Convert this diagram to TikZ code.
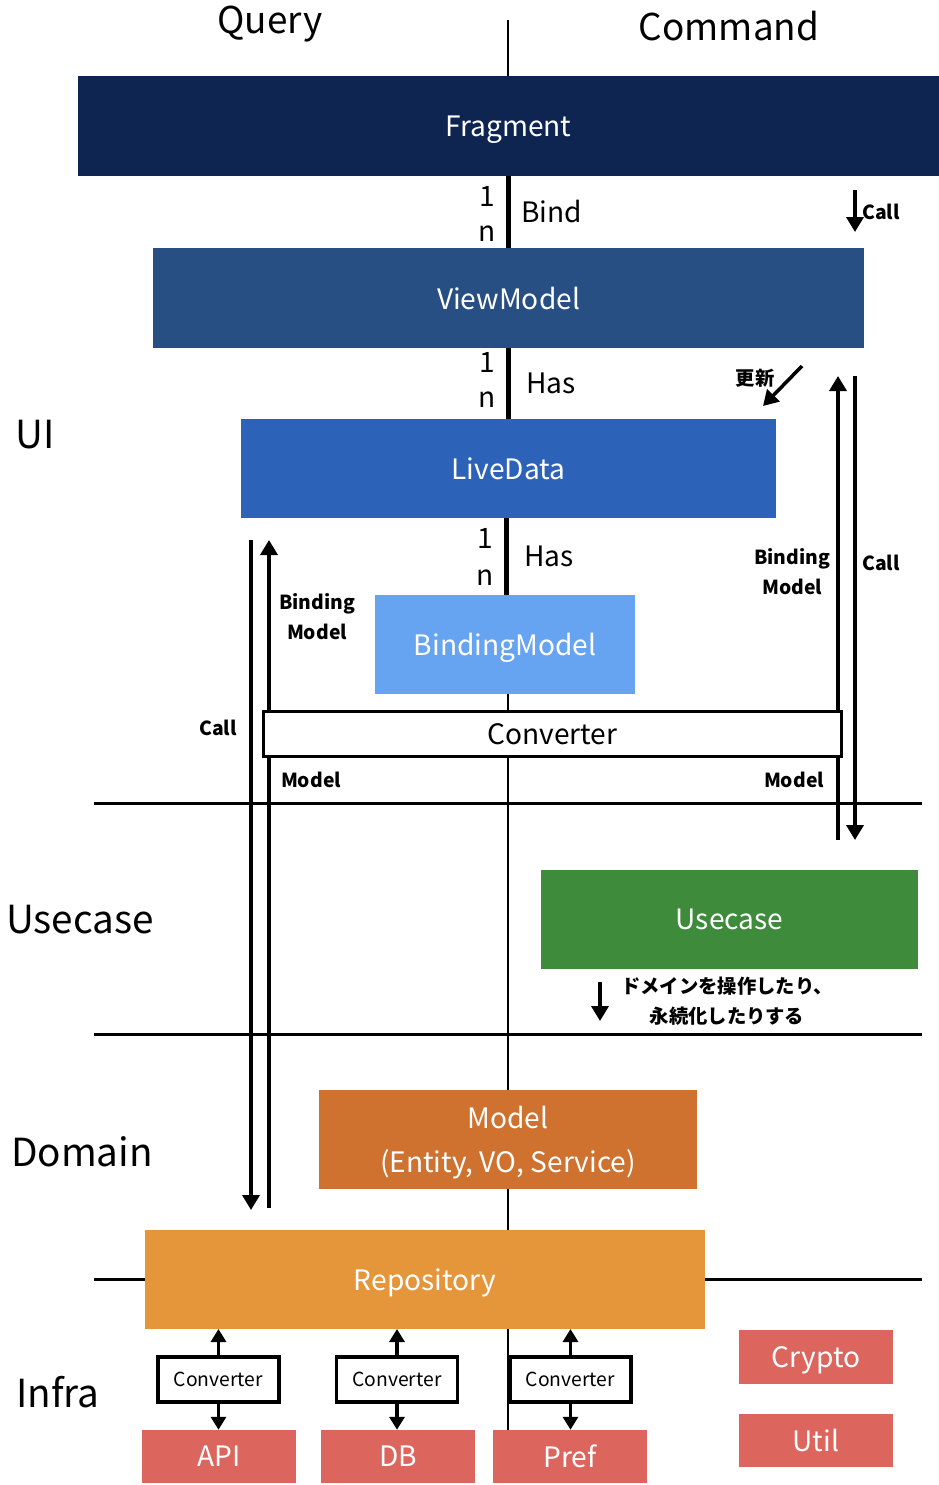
\documentclass[tikz,border=0pt]{standalone}
\usepackage{fontspec}
\setmainfont{Noto Sans CJK JP}
\usetikzlibrary{positioning, arrows.meta, backgrounds}
\definecolor{fragNavy}{HTML}{0E2451}
\definecolor{vmBlue}{HTML}{274F83}
\definecolor{ldBlue}{HTML}{2C63B9}
\definecolor{bmBlue}{HTML}{66A4F1}
\definecolor{ucGreen}{HTML}{3D8B3B}
\definecolor{modelOrange}{HTML}{CF712F}
\definecolor{repoOrange}{HTML}{E5963B}
\definecolor{infraRed}{HTML}{DC665E}

\begin{document}
\begin{tikzpicture}[
  x=0.02cm, y=-0.02cm,
  layerBox/.style={fill=#1, text=white, inner sep=0pt, outer sep=0pt, minimum height=2cm, text depth=0pt, align=center, font=\fontsize{16}{25}\selectfont},
  infraBox/.style={fill=infraRed, text=white, inner sep=0pt, outer sep=0pt, minimum width=3.08cm, minimum height=1.07cm, text depth=0pt, font=\fontsize{16}{20}\selectfont},
  convBox/.style={draw, line width=2pt, fill=white, inner sep=0pt, outer sep=0pt, minimum width=2.42cm, minimum height=0.9cm, font=\fontsize{11}{13}\selectfont},
  linkLine/.style={line width=3.4pt},
  linkLabel/.style={inner sep=0pt, font=\fontsize{16}{20}\selectfont},
  flowArrow/.style={line width=2pt, -{Triangle[width=0.34cm, length=0.3cm]}},
  smallArrow/.style={line width=2pt, -{Triangle[width=0.3cm, length=0.26cm]}},
  tierLine/.style={line width=1.7pt},
  headLabel/.style={font=\fontsize{21}{25}\selectfont},
  tierLabel/.style={font=\fontsize{22}{26}\selectfont},
  noteLabel/.style={align=center, inner sep=0pt, font=\fontsize{11}{17}\selectfont\bfseries}
]
\useasboundingbox (0,0) rectangle (939,1485);

% Headers
\node[headLabel] (queryHead) at (270,24) {Query};
\node[headLabel] (commandHead) at (729,26) {Command};

% UI layer
\node[layerBox=fragNavy, minimum width=17.22cm] (fragment) at (508.5,126) {Fragment};
\node[layerBox=vmBlue, minimum width=14.24cm, below=1.44cm of fragment] (viewModel) {ViewModel};
\node[layerBox=ldBlue, minimum width=10.72cm, minimum height=1.98cm, below=1.42cm of viewModel] (liveData) {LiveData};
\node[layerBox=bmBlue, minimum width=5.22cm, minimum height=1.98cm, below=1.54cm of liveData, xshift=-0.07cm] (bindingModel) {BindingModel};
\node[draw, line width=2.2pt, fill=white, inner sep=0pt, outer sep=0pt, minimum width=11.56cm, minimum height=0.9cm, font=\fontsize{16}{20}\selectfont] (converter) at (552.5,734) {Converter};

% Usecase / Domain layer
\node[layerBox=ucGreen, minimum width=7.54cm, minimum height=1.98cm] (usecase) at (729.5,919.5) {Usecase};
\node[layerBox=modelOrange, minimum width=7.56cm, minimum height=1.98cm] (model) at (508,1139.5) {Model\\(Entity, VO, Service)};

% Infra layer
\node[layerBox=repoOrange, minimum width=11.2cm, minimum height=1.98cm] (repository) at (425,1279.5) {Repository};
\node[convBox] (convApi) at (218.5,1379.5) {Converter};
\node[convBox] (convDb) at (397,1379.5) {Converter};
\node[convBox] (convPref) at (570.5,1379.5) {Converter};
\node[infraBox] (api) at (219,1456.5) {API};
\node[infraBox] (db) at (398,1456.5) {DB};
\node[infraBox] (pref) at (570,1456.5) {Pref};
\node[infraBox] (crypto) at (816,1357) {Crypto};
\node[infraBox] (util) at (816,1440.5) {Util};

% Tier names
\node[tierLabel] (uiTag) at (35,435) {UI};
\node[tierLabel] (usecaseTag) at (80,920) {Usecase};
\node[tierLabel] (domainTag) at (82,1152) {Domain};
\node[tierLabel] (infraTag) at (58,1392) {Infra};

% Links between UI parts
\draw[linkLine] (fragment.south) -- (viewModel.north)
  node[linkLabel, pos=0.28, left=0.2cm] (bindOne) {1}
  node[linkLabel, pos=0.8, left=0.2cm] (bindMany) {n}
  node[linkLabel, midway, right=0.2cm] (bindText) {Bind};
\draw[linkLine] (viewModel.south) -- (liveData.north)
  node[linkLabel, pos=0.2, left=0.2cm] (vmOne) {1}
  node[linkLabel, pos=0.73, left=0.2cm] (vmMany) {n}
  node[linkLabel, midway, right=0.3cm] (vmText) {Has};
\draw[linkLine] (liveData.south -| bindingModel.north) ++(0.03cm,0) coordinate (ldFoot) -- (ldFoot |- bindingModel.north)
  node[linkLabel, pos=0.27, left=0.2cm] (ldOne) {1}
  node[linkLabel, pos=0.77, left=0.2cm] (ldMany) {n}
  node[linkLabel, midway, right=0.3cm] (ldText) {Has};

% Flow labels
\node[noteLabel] (callTopText) at (881,212) {Call};
\node[noteLabel] (updateText) at (755,378) {更新};
\node[noteLabel] (bmRightText) at (792,572) {Binding\\Model};
\node[noteLabel] (callRightText) at (881,563) {Call};
\node[noteLabel] (bmLeftText) at (317,617) {Binding\\Model};
\node[noteLabel] (callLeftText) at (218,728) {Call};
\node[noteLabel] (modelLeftText) at (311,780) {Model};
\node[noteLabel] (modelRightText) at (794,780) {Model};
\node[noteLabel] (usecaseNote) at (727,1001) {ドメインを操作したり、\\永続化したりする};

% Flow end points
\coordinate (callTopStart) at (855,190);
\coordinate (callTopEnd) at (855,232);
\coordinate (updateStart) at (802,366);
\coordinate (updateEnd) at (763,406);
\coordinate (cmdUpLow) at (838,840);
\coordinate (cmdUpHigh) at (838,376);
\coordinate (cmdDownHigh) at (855,376);
\coordinate (cmdDownLow) at (855,840);
\coordinate (qCallHigh) at (251,540);
\coordinate (qCallLow) at (251,1210);
\coordinate (qBackLow) at (269,1208);
\coordinate (qBackHigh) at (269,540);
\coordinate (ucArrowTop) at (600,982);
\coordinate (ucArrowBottom) at (600,1021);

\draw[flowArrow] (callTopStart) -- (callTopEnd);
\draw[flowArrow] (updateStart) -- (updateEnd);
\draw[flowArrow] (ucArrowTop) -- (ucArrowBottom);

\foreach \conv/\store in {convApi/api, convDb/db, convPref/pref} {
  \draw[smallArrow] (\conv.north) -- (\conv.north |- repository.south);
  \draw[smallArrow] (\conv.south) -- (\conv.south |- \store.north);
}

% Background lines
\begin{scope}[on background layer]
  \draw[line width=0.6pt] (508,20) -- (508,1430);
  \draw[tierLine] (94,803) -- (922,803);
  \draw[tierLine] (94,1034) -- (922,1034);
  \draw[tierLine] (94,1279) -- (922,1279);

  \draw[flowArrow] (cmdUpLow) -- (cmdUpHigh);
  \draw[flowArrow] (cmdDownHigh) -- (cmdDownLow);
  \draw[flowArrow] (qCallHigh) -- (qCallLow);
  \draw[flowArrow] (qBackLow) -- (qBackHigh);
\end{scope}

\end{tikzpicture}
\end{document}
